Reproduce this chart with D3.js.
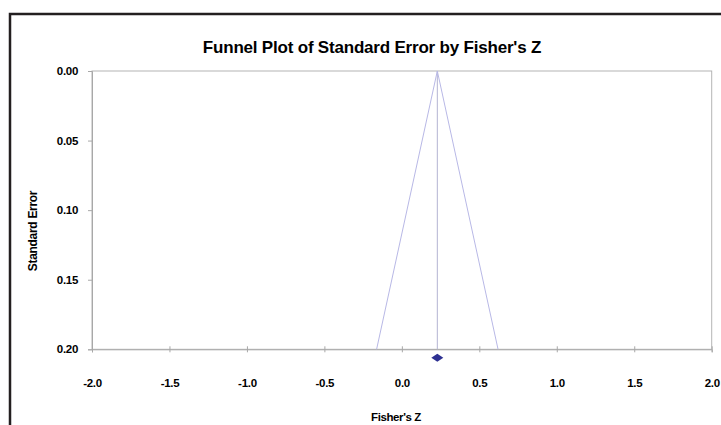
<!DOCTYPE html>
<meta charset="utf-8">
<script src="https://d3js.org/d3.v7.min.js"></script>
<style>
  body { margin: 0; background: #fff; }
  text { font-family: "Liberation Sans", Arial, sans-serif; font-weight: bold; fill: #000; }
</style>
<body>
<div id="chart"></div>
<script>
// values
var xTicks = [-2.0, -1.5, -1.0, -0.5, 0.0, 0.5, 1.0, 1.5, 2.0];
var yTicks = [0.00, 0.05, 0.10, 0.15, 0.20];
var meanZ = 0.229;
var funnelLeft = [[0.229, 0.00], [-0.163, 0.20]];
var funnelRight = [[0.229, 0.00], [0.621, 0.20]];
var meanLine = [[0.229, 0.00], [0.229, 0.20]];
var studyZ = [0.229];
var studySE = [0.206];

var W = 721, H = 425;
var margin = {top: 71, left: 92, right: 9.3, bottom: 75.7};
var width = W - margin.left - margin.right,
    height = H - margin.top - margin.bottom;

var svg = d3.select("#chart").append("svg")
    .attr("width", W)
    .attr("height", H);

// outer chart frame (only top and left visible)
svg.append("path")
    .attr("d", "M10," + H + "V14H" + W)
    .attr("fill", "none")
    .attr("stroke", "#231f20")
    .attr("stroke-width", 2.5);

// title
svg.append("text")
    .attr("x", 372)
    .attr("y", 53)
    .attr("text-anchor", "middle")
    .style("font-size", "17px")
    .style("letter-spacing", "-0.2px")
    .text("Funnel Plot of Standard Error by Fisher's Z");

var g = svg.append("g")
    .attr("transform", "translate(" + margin.left + "," + margin.top + ")");

var x = d3.scaleLinear().domain([-2, 2]).range([0, width]);
var y = d3.scaleLinear().domain([0, 0.2]).range([0, height]);

// plot area border
g.append("rect")
    .attr("width", width)
    .attr("height", height)
    .attr("fill", "none")
    .attr("stroke", "#b4b4b4");

// plain hyphen minus like the original
var fmt1 = function(d) { return d3.format(".1f")(d).replace("\u2212", "-"); };

// y axis
var yAxis = g.append("g")
    .call(d3.axisLeft(y).tickValues(yTicks).tickFormat(d3.format(".2f")).tickSize(4).tickPadding(10));
yAxis.select(".domain").attr("stroke", "#a8a8a8");
yAxis.selectAll(".tick line").attr("stroke", "#a8a8a8");
yAxis.selectAll("text").style("font-size", "11.5px").style("letter-spacing", "-0.3px");

// x axis, cross ticks
var xAxis = g.append("g")
    .attr("transform", "translate(0," + height + ")")
    .call(d3.axisBottom(x).tickValues(xTicks).tickFormat(fmt1).tickSize(3).tickPadding(27));
xAxis.select(".domain").attr("stroke", "#a8a8a8");
xAxis.selectAll(".tick line").attr("y1", -3).attr("stroke", "#a8a8a8");
xAxis.selectAll("text").style("font-size", "11.5px").style("letter-spacing", "-0.3px");

// axis titles
svg.append("text")
    .attr("transform", "translate(37,231) rotate(-90)")
    .attr("text-anchor", "middle")
    .style("font-size", "12px")
    .style("letter-spacing", "-0.3px")
    .text("Standard Error");

svg.append("text")
    .attr("x", 396)
    .attr("y", 421)
    .attr("text-anchor", "middle")
    .style("font-size", "11.5px")
    .style("letter-spacing", "-0.4px")
    .text("Fisher's Z");

var line = d3.line()
    .x(function(d) { return x(d[0]); })
    .y(function(d) { return y(d[1]); });

g.append("path")
    .datum(meanLine)
    .attr("d", line)
    .attr("fill", "none")
    .attr("stroke", "#b4b4d2")
    .attr("stroke-width", 1);

[funnelLeft, funnelRight].forEach(function(f) {
  g.append("path")
      .datum(f)
      .attr("d", line)
      .attr("fill", "none")
      .attr("stroke", "#b8b8e6")
      .attr("stroke-width", 1);
});

// studies
g.selectAll(".pt")
    .data(studyZ)
    .enter()
    .append("path")
      .attr("class", "pt")
      .attr("transform", function(d, i) { return "translate(" + x(d) + "," + y(studySE[i]) + ")"; })
      .attr("d", "M-6,0L0,-4L6,0L0,4Z")
      .attr("fill", "#2e3192");
</script>
</body>
